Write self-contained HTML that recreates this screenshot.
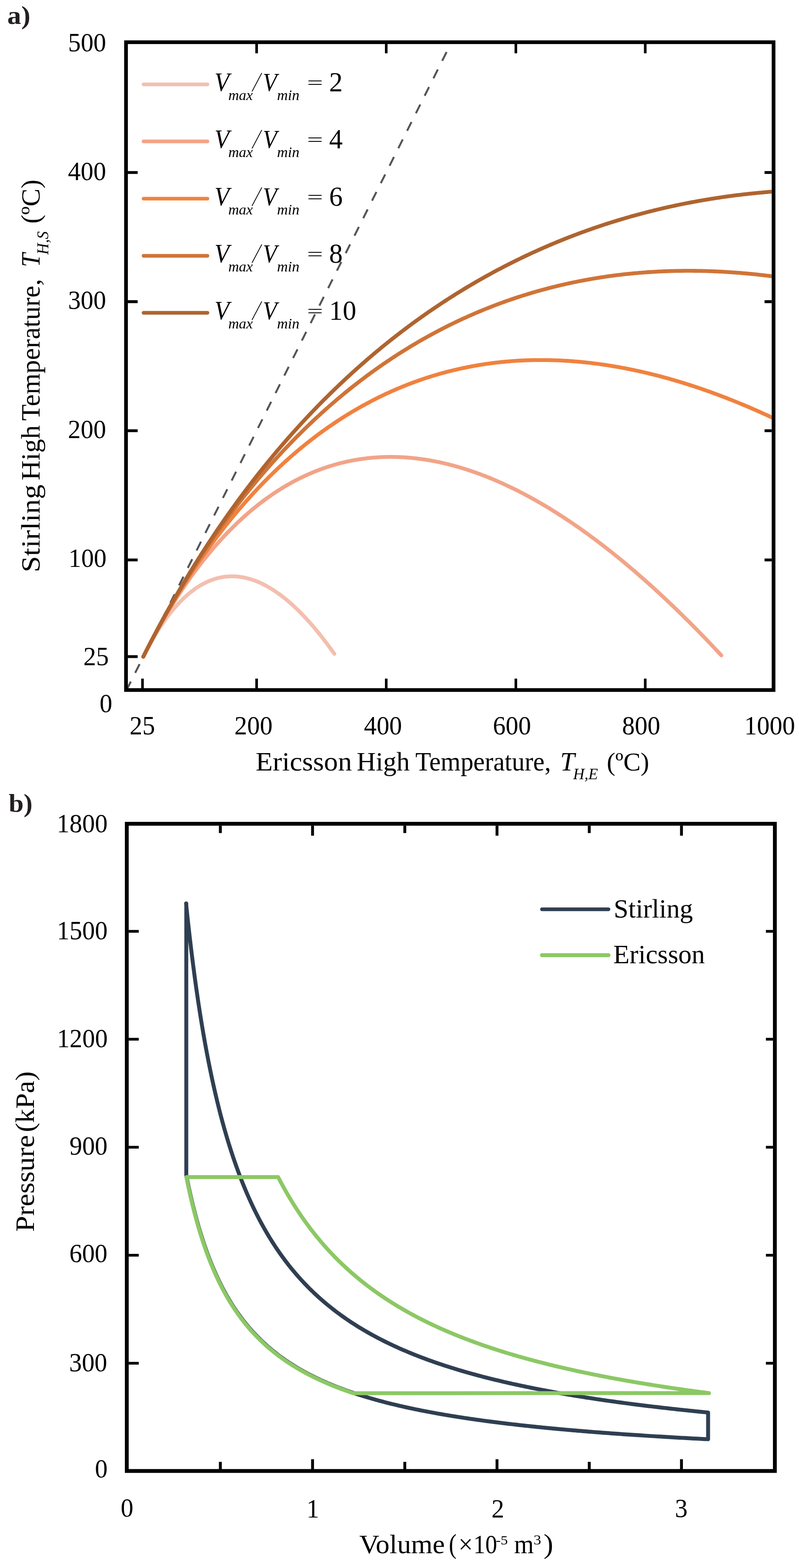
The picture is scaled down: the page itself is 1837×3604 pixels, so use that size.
<!DOCTYPE html><html><head><meta charset="utf-8"><title>Stirling vs Ericsson temperature and P-V diagram</title>
<style>html,body{margin:0;padding:0;background:#fff;}svg{display:block;}text{font-family:"Liberation Serif", "Times New Roman", serif;fill:#000;}</style></head><body>
<svg width="1837" height="3604" viewBox="0 0 1837 3604">
<defs><clipPath id="ca"><rect x="294" y="101" width="1480" height="1481"/></clipPath></defs>
<path d="M292.17 1583.70 L1036.76 99.70" stroke="#555557" stroke-width="4.5" stroke-dasharray="22.5 22.47" stroke-dashoffset="3.4" fill="none" clip-path="url(#ca)"/>
<path d="M329.40 1509.50L333.12 1502.17L336.85 1495.02L340.57 1488.04L344.29 1481.23L348.01 1474.60L351.74 1468.13L355.46 1461.83L359.18 1455.70L362.91 1449.73L366.63 1443.92L370.35 1438.27L374.07 1432.78L377.80 1427.44L381.52 1422.25L385.24 1417.22L388.97 1412.34L392.69 1407.61L396.41 1403.03L400.13 1398.59L403.86 1394.29L407.58 1390.14L411.30 1386.13L415.03 1382.26L418.75 1378.53L422.47 1374.93L426.20 1371.47L429.92 1368.15L433.64 1364.95L437.36 1361.89L441.09 1358.96L444.81 1356.16L448.53 1353.48L452.26 1350.94L455.98 1348.51L459.70 1346.21L463.42 1344.04L467.15 1341.99L470.87 1340.05L474.59 1338.24L478.32 1336.55L482.04 1334.97L485.76 1333.51L489.49 1332.17L493.21 1330.94L496.93 1329.82L500.65 1328.81L504.38 1327.92L508.10 1327.14L511.82 1326.47L515.55 1325.90L519.27 1325.45L522.99 1325.10L526.71 1324.86L530.44 1324.72L534.16 1324.68L537.88 1324.75L541.61 1324.93L545.33 1325.20L549.05 1325.58L552.77 1326.05L556.50 1326.63L560.22 1327.30L563.94 1328.07L567.67 1328.94L571.39 1329.91L575.11 1330.97L578.84 1332.12L582.56 1333.37L586.28 1334.72L590.00 1336.16L593.73 1337.68L597.45 1339.30L601.17 1341.02L604.90 1342.82L608.62 1344.71L612.34 1346.69L616.06 1348.76L619.79 1350.91L623.51 1353.16L627.23 1355.49L630.96 1357.90L634.68 1360.40L638.40 1362.99L642.12 1365.66L645.85 1368.41L649.57 1371.25L653.29 1374.17L657.02 1377.17L660.74 1380.25L664.46 1383.41L668.19 1386.65L671.91 1389.98L675.63 1393.38L679.35 1396.86L683.08 1400.42L686.80 1404.06L690.52 1407.77L694.25 1411.56L697.97 1415.43L701.69 1419.37L705.41 1423.39L709.14 1427.48L712.86 1431.65L716.58 1435.89L720.31 1440.21L724.03 1444.60L727.75 1449.06L731.48 1453.59L735.20 1458.20L738.92 1462.87L742.64 1467.62L746.37 1472.44L750.09 1477.33L753.81 1482.29L757.54 1487.31L761.26 1492.41L764.98 1497.58L768.70 1502.81" stroke="#F3BFAF" stroke-width="8.8" fill="none" stroke-linecap="round" stroke-linejoin="round" clip-path="url(#ca)"/>
<path d="M329.40 1509.50L333.12 1502.12L336.85 1494.84L340.57 1487.64L344.29 1480.53L348.01 1473.50L351.74 1466.56L355.46 1459.70L359.18 1452.92L362.91 1446.22L366.63 1439.61L370.35 1433.07L374.07 1426.62L377.80 1420.24L381.52 1413.94L385.24 1407.71L388.97 1401.56L392.69 1395.49L396.41 1389.48L400.13 1383.55L403.86 1377.70L407.58 1371.91L411.30 1366.20L415.03 1360.55L418.75 1354.97L422.47 1349.47L426.20 1344.03L429.92 1338.65L433.64 1333.35L437.36 1328.11L441.09 1322.93L444.81 1317.82L448.53 1312.77L452.26 1307.79L455.98 1302.87L459.70 1298.01L463.42 1293.21L467.15 1288.47L470.87 1283.80L474.59 1279.18L478.32 1274.62L482.04 1270.13L485.76 1265.69L489.49 1261.30L493.21 1256.98L496.93 1252.71L500.65 1248.50L504.38 1244.34L508.10 1240.24L511.82 1236.19L515.55 1232.20L519.27 1228.26L522.99 1224.38L526.71 1220.55L530.44 1216.77L534.16 1213.04L537.88 1209.37L541.61 1205.74L545.33 1202.17L549.05 1198.65L552.77 1195.18L556.50 1191.75L560.22 1188.38L563.94 1185.06L567.67 1181.78L571.39 1178.55L575.11 1175.37L578.84 1172.24L582.56 1169.16L586.28 1166.12L590.00 1163.13L593.73 1160.18L597.45 1157.28L601.17 1154.43L604.90 1151.62L608.62 1148.85L612.34 1146.13L616.06 1143.46L619.79 1140.83L623.51 1138.24L627.23 1135.69L630.96 1133.19L634.68 1130.73L638.40 1128.31L642.12 1125.94L645.85 1123.61L649.57 1121.31L653.29 1119.06L657.02 1116.85L660.74 1114.68L664.46 1112.56L668.19 1110.47L671.91 1108.42L675.63 1106.41L679.35 1104.44L683.08 1102.51L686.80 1100.62L690.52 1098.76L694.25 1096.95L697.97 1095.17L701.69 1093.44L705.41 1091.73L709.14 1090.07L712.86 1088.45L716.58 1086.86L720.31 1085.30L724.03 1083.79L727.75 1082.31L731.48 1080.87L735.20 1079.46L738.92 1078.09L742.64 1076.75L746.37 1075.45L750.09 1074.18L753.81 1072.95L757.54 1071.76L761.26 1070.60L764.98 1069.47L768.70 1068.37L772.43 1067.32L776.15 1066.29L779.87 1065.30L783.60 1064.34L787.32 1063.41L791.04 1062.52L794.76 1061.66L798.49 1060.83L802.21 1060.04L805.93 1059.28L809.66 1058.54L813.38 1057.85L817.10 1057.18L820.83 1056.54L824.55 1055.94L828.27 1055.37L831.99 1054.83L835.72 1054.31L839.44 1053.83L843.16 1053.39L846.89 1052.97L850.61 1052.58L854.33 1052.22L858.05 1051.89L861.78 1051.59L865.50 1051.32L869.22 1051.08L872.95 1050.87L876.67 1050.69L880.39 1050.54L884.12 1050.42L887.84 1050.33L891.56 1050.26L895.28 1050.22L899.01 1050.22L902.73 1050.24L906.45 1050.28L910.18 1050.36L913.90 1050.46L917.62 1050.60L921.34 1050.76L925.07 1050.94L928.79 1051.16L932.51 1051.40L936.24 1051.67L939.96 1051.96L943.68 1052.29L947.40 1052.63L951.13 1053.01L954.85 1053.41L958.57 1053.84L962.30 1054.30L966.02 1054.78L969.74 1055.28L973.47 1055.82L977.19 1056.38L980.91 1056.96L984.63 1057.57L988.36 1058.21L992.08 1058.87L995.80 1059.55L999.53 1060.26L1003.25 1061.00L1006.97 1061.76L1010.69 1062.55L1014.42 1063.36L1018.14 1064.19L1021.86 1065.05L1025.59 1065.94L1029.31 1066.84L1033.03 1067.78L1036.76 1068.73L1040.48 1069.71L1044.20 1070.72L1047.92 1071.75L1051.65 1072.80L1055.37 1073.87L1059.09 1074.97L1062.82 1076.09L1066.54 1077.24L1070.26 1078.41L1073.98 1079.60L1077.71 1080.82L1081.43 1082.05L1085.15 1083.31L1088.88 1084.60L1092.60 1085.90L1096.32 1087.23L1100.04 1088.58L1103.77 1089.96L1107.49 1091.35L1111.21 1092.77L1114.94 1094.21L1118.66 1095.68L1122.38 1097.16L1126.11 1098.67L1129.83 1100.19L1133.55 1101.74L1137.27 1103.32L1141.00 1104.91L1144.72 1106.52L1148.44 1108.16L1152.17 1109.82L1155.89 1111.49L1159.61 1113.19L1163.33 1114.92L1167.06 1116.66L1170.78 1118.42L1174.50 1120.20L1178.23 1122.01L1181.95 1123.83L1185.67 1125.68L1189.39 1127.54L1193.12 1129.43L1196.84 1131.34L1200.56 1133.27L1204.29 1135.21L1208.01 1137.18L1211.73 1139.17L1215.46 1141.18L1219.18 1143.21L1222.90 1145.25L1226.62 1147.32L1230.35 1149.41L1234.07 1151.52L1237.79 1153.64L1241.52 1155.79L1245.24 1157.96L1248.96 1160.14L1252.68 1162.35L1256.41 1164.57L1260.13 1166.81L1263.85 1169.08L1267.58 1171.36L1271.30 1173.66L1275.02 1175.98L1278.75 1178.32L1282.47 1180.67L1286.19 1183.05L1289.91 1185.45L1293.64 1187.86L1297.36 1190.29L1301.08 1192.74L1304.81 1195.21L1308.53 1197.70L1312.25 1200.21L1315.97 1202.73L1319.70 1205.27L1323.42 1207.83L1327.14 1210.41L1330.87 1213.01L1334.59 1215.63L1338.31 1218.26L1342.03 1220.91L1345.76 1223.58L1349.48 1226.26L1353.20 1228.97L1356.93 1231.69L1360.65 1234.43L1364.37 1237.19L1368.10 1239.96L1371.82 1242.76L1375.54 1245.56L1379.26 1248.39L1382.99 1251.24L1386.71 1254.10L1390.43 1256.98L1394.16 1259.87L1397.88 1262.79L1401.60 1265.72L1405.32 1268.66L1409.05 1271.63L1412.77 1274.61L1416.49 1277.61L1420.22 1280.62L1423.94 1283.65L1427.66 1286.70L1431.39 1289.76L1435.11 1292.84L1438.83 1295.94L1442.55 1299.06L1446.28 1302.19L1450.00 1305.33L1453.72 1308.50L1457.45 1311.68L1461.17 1314.87L1464.89 1318.09L1468.61 1321.31L1472.34 1324.56L1476.06 1327.82L1479.78 1331.09L1483.51 1334.39L1487.23 1337.70L1490.95 1341.02L1494.67 1344.36L1498.40 1347.72L1502.12 1351.09L1505.84 1354.48L1509.57 1357.88L1513.29 1361.30L1517.01 1364.73L1520.74 1368.18L1524.46 1371.65L1528.18 1375.13L1531.90 1378.62L1535.63 1382.14L1539.35 1385.66L1543.07 1389.20L1546.80 1392.76L1550.52 1396.33L1554.24 1399.92L1557.96 1403.53L1561.69 1407.14L1565.41 1410.78L1569.13 1414.42L1572.86 1418.09L1576.58 1421.76L1580.30 1425.46L1584.02 1429.17L1587.75 1432.89L1591.47 1436.62L1595.19 1440.38L1598.92 1444.14L1602.64 1447.92L1606.36 1451.72L1610.09 1455.53L1613.81 1459.36L1617.53 1463.19L1621.25 1467.05L1624.98 1470.92L1628.70 1474.80L1632.42 1478.70L1636.15 1482.61L1639.87 1486.53L1643.59 1490.47L1647.31 1494.43L1651.04 1498.39L1654.76 1502.38L1658.48 1506.37" stroke="#F2A488" stroke-width="8.8" fill="none" stroke-linecap="round" stroke-linejoin="round" clip-path="url(#ca)"/>
<path d="M329.40 1509.50L333.12 1502.15L336.85 1494.86L340.57 1487.65L344.29 1480.50L348.01 1473.41L351.74 1466.39L355.46 1459.44L359.18 1452.55L362.91 1445.72L366.63 1438.95L370.35 1432.25L374.07 1425.60L377.80 1419.02L381.52 1412.49L385.24 1406.03L388.97 1399.62L392.69 1393.27L396.41 1386.97L400.13 1380.73L403.86 1374.55L407.58 1368.42L411.30 1362.35L415.03 1356.33L418.75 1350.36L422.47 1344.45L426.20 1338.59L429.92 1332.78L433.64 1327.02L437.36 1321.31L441.09 1315.65L444.81 1310.04L448.53 1304.49L452.26 1298.98L455.98 1293.51L459.70 1288.10L463.42 1282.73L467.15 1277.41L470.87 1272.14L474.59 1266.91L478.32 1261.73L482.04 1256.59L485.76 1251.50L489.49 1246.46L493.21 1241.45L496.93 1236.49L500.65 1231.58L504.38 1226.71L508.10 1221.88L511.82 1217.09L515.55 1212.34L519.27 1207.64L522.99 1202.97L526.71 1198.35L530.44 1193.77L534.16 1189.23L537.88 1184.72L541.61 1180.26L545.33 1175.84L549.05 1171.45L552.77 1167.11L556.50 1162.80L560.22 1158.53L563.94 1154.30L567.67 1150.10L571.39 1145.95L575.11 1141.83L578.84 1137.74L582.56 1133.69L586.28 1129.68L590.00 1125.71L593.73 1121.77L597.45 1117.86L601.17 1113.99L604.90 1110.16L608.62 1106.36L612.34 1102.59L616.06 1098.86L619.79 1095.16L623.51 1091.49L627.23 1087.86L630.96 1084.26L634.68 1080.70L638.40 1077.16L642.12 1073.66L645.85 1070.19L649.57 1066.76L653.29 1063.35L657.02 1059.98L660.74 1056.64L664.46 1053.32L668.19 1050.04L671.91 1046.79L675.63 1043.58L679.35 1040.39L683.08 1037.23L686.80 1034.10L690.52 1031.00L694.25 1027.93L697.97 1024.89L701.69 1021.88L705.41 1018.90L709.14 1015.95L712.86 1013.02L716.58 1010.13L720.31 1007.26L724.03 1004.42L727.75 1001.61L731.48 998.83L735.20 996.07L738.92 993.35L742.64 990.64L746.37 987.97L750.09 985.32L753.81 982.70L757.54 980.11L761.26 977.55L764.98 975.01L768.70 972.49L772.43 970.00L776.15 967.54L779.87 965.11L783.60 962.70L787.32 960.31L791.04 957.95L794.76 955.62L798.49 953.31L802.21 951.03L805.93 948.77L809.66 946.53L813.38 944.32L817.10 942.14L820.83 939.98L824.55 937.84L828.27 935.73L831.99 933.64L835.72 931.57L839.44 929.53L843.16 927.52L846.89 925.52L850.61 923.55L854.33 921.60L858.05 919.68L861.78 917.78L865.50 915.90L869.22 914.04L872.95 912.21L876.67 910.40L880.39 908.61L884.12 906.84L887.84 905.10L891.56 903.38L895.28 901.68L899.01 900.00L902.73 898.35L906.45 896.71L910.18 895.10L913.90 893.51L917.62 891.94L921.34 890.39L925.07 888.86L928.79 887.35L932.51 885.87L936.24 884.40L939.96 882.96L943.68 881.54L947.40 880.13L951.13 878.75L954.85 877.39L958.57 876.05L962.30 874.73L966.02 873.43L969.74 872.15L973.47 870.88L977.19 869.64L980.91 868.42L984.63 867.22L988.36 866.04L992.08 864.88L995.80 863.73L999.53 862.61L1003.25 861.50L1006.97 860.42L1010.69 859.35L1014.42 858.31L1018.14 857.28L1021.86 856.27L1025.59 855.28L1029.31 854.30L1033.03 853.35L1036.76 852.42L1040.48 851.50L1044.20 850.60L1047.92 849.72L1051.65 848.86L1055.37 848.02L1059.09 847.19L1062.82 846.39L1066.54 845.60L1070.26 844.83L1073.98 844.07L1077.71 843.34L1081.43 842.62L1085.15 841.92L1088.88 841.23L1092.60 840.57L1096.32 839.92L1100.04 839.29L1103.77 838.68L1107.49 838.08L1111.21 837.50L1114.94 836.94L1118.66 836.39L1122.38 835.87L1126.11 835.35L1129.83 834.86L1133.55 834.38L1137.27 833.92L1141.00 833.48L1144.72 833.05L1148.44 832.64L1152.17 832.24L1155.89 831.86L1159.61 831.50L1163.33 831.15L1167.06 830.82L1170.78 830.51L1174.50 830.21L1178.23 829.93L1181.95 829.67L1185.67 829.42L1189.39 829.18L1193.12 828.96L1196.84 828.76L1200.56 828.57L1204.29 828.40L1208.01 828.25L1211.73 828.11L1215.46 827.98L1219.18 827.87L1222.90 827.78L1226.62 827.70L1230.35 827.63L1234.07 827.59L1237.79 827.55L1241.52 827.53L1245.24 827.53L1248.96 827.54L1252.68 827.57L1256.41 827.61L1260.13 827.67L1263.85 827.74L1267.58 827.82L1271.30 827.93L1275.02 828.04L1278.75 828.17L1282.47 828.31L1286.19 828.47L1289.91 828.65L1293.64 828.83L1297.36 829.04L1301.08 829.25L1304.81 829.48L1308.53 829.73L1312.25 829.99L1315.97 830.26L1319.70 830.55L1323.42 830.85L1327.14 831.16L1330.87 831.49L1334.59 831.83L1338.31 832.19L1342.03 832.56L1345.76 832.94L1349.48 833.34L1353.20 833.75L1356.93 834.18L1360.65 834.62L1364.37 835.07L1368.10 835.53L1371.82 836.01L1375.54 836.51L1379.26 837.01L1382.99 837.53L1386.71 838.06L1390.43 838.61L1394.16 839.17L1397.88 839.74L1401.60 840.33L1405.32 840.92L1409.05 841.54L1412.77 842.16L1416.49 842.80L1420.22 843.45L1423.94 844.11L1427.66 844.79L1431.39 845.48L1435.11 846.18L1438.83 846.89L1442.55 847.62L1446.28 848.36L1450.00 849.11L1453.72 849.88L1457.45 850.65L1461.17 851.44L1464.89 852.25L1468.61 853.06L1472.34 853.89L1476.06 854.73L1479.78 855.58L1483.51 856.44L1487.23 857.32L1490.95 858.21L1494.67 859.11L1498.40 860.02L1502.12 860.95L1505.84 861.89L1509.57 862.84L1513.29 863.80L1517.01 864.77L1520.74 865.76L1524.46 866.76L1528.18 867.76L1531.90 868.79L1535.63 869.82L1539.35 870.86L1543.07 871.92L1546.80 872.99L1550.52 874.07L1554.24 875.16L1557.96 876.26L1561.69 877.38L1565.41 878.51L1569.13 879.64L1572.86 880.79L1576.58 881.96L1580.30 883.13L1584.02 884.31L1587.75 885.51L1591.47 886.71L1595.19 887.93L1598.92 889.16L1602.64 890.40L1606.36 891.66L1610.09 892.92L1613.81 894.19L1617.53 895.48L1621.25 896.78L1624.98 898.08L1628.70 899.40L1632.42 900.73L1636.15 902.07L1639.87 903.43L1643.59 904.79L1647.31 906.16L1651.04 907.55L1654.76 908.94L1658.48 910.35L1662.21 911.77L1665.93 913.19L1669.65 914.63L1673.38 916.08L1677.10 917.54L1680.82 919.01L1684.54 920.50L1688.27 921.99L1691.99 923.49L1695.71 925.00L1699.44 926.53L1703.16 928.06L1706.88 929.61L1710.60 931.16L1714.33 932.73L1718.05 934.31L1721.77 935.89L1725.50 937.49L1729.22 939.10L1732.94 940.72L1736.66 942.34L1740.39 943.98L1744.11 945.63L1747.83 947.29L1751.56 948.96L1755.28 950.64L1759.00 952.33L1762.73 954.03L1766.45 955.74L1770.17 957.46L1773.89 959.19L1777.62 960.93L1781.34 962.68" stroke="#F0823F" stroke-width="8.8" fill="none" stroke-linecap="round" stroke-linejoin="round" clip-path="url(#ca)"/>
<path d="M329.40 1509.50L333.12 1502.11L336.85 1494.78L340.57 1487.51L344.29 1480.29L348.01 1473.13L351.74 1466.03L355.46 1458.98L359.18 1451.99L362.91 1445.06L366.63 1438.17L370.35 1431.34L374.07 1424.57L377.80 1417.84L381.52 1411.16L385.24 1404.54L388.97 1397.97L392.69 1391.44L396.41 1384.97L400.13 1378.54L403.86 1372.16L407.58 1365.83L411.30 1359.55L415.03 1353.31L418.75 1347.12L422.47 1340.98L426.20 1334.88L429.92 1328.82L433.64 1322.81L437.36 1316.84L441.09 1310.92L444.81 1305.04L448.53 1299.20L452.26 1293.41L455.98 1287.65L459.70 1281.94L463.42 1276.27L467.15 1270.64L470.87 1265.04L474.59 1259.49L478.32 1253.98L482.04 1248.51L485.76 1243.08L489.49 1237.68L493.21 1232.33L496.93 1227.01L500.65 1221.72L504.38 1216.48L508.10 1211.27L511.82 1206.10L515.55 1200.97L519.27 1195.87L522.99 1190.81L526.71 1185.78L530.44 1180.79L534.16 1175.83L537.88 1170.90L541.61 1166.02L545.33 1161.16L549.05 1156.34L552.77 1151.55L556.50 1146.80L560.22 1142.07L563.94 1137.38L567.67 1132.73L571.39 1128.10L575.11 1123.51L578.84 1118.95L582.56 1114.42L586.28 1109.92L590.00 1105.45L593.73 1101.01L597.45 1096.61L601.17 1092.23L604.90 1087.89L608.62 1083.57L612.34 1079.28L616.06 1075.03L619.79 1070.80L623.51 1066.60L627.23 1062.43L630.96 1058.29L634.68 1054.17L638.40 1050.09L642.12 1046.03L645.85 1042.00L649.57 1038.00L653.29 1034.03L657.02 1030.08L660.74 1026.16L664.46 1022.27L668.19 1018.40L671.91 1014.57L675.63 1010.75L679.35 1006.97L683.08 1003.21L686.80 999.47L690.52 995.76L694.25 992.08L697.97 988.42L701.69 984.79L705.41 981.18L709.14 977.60L712.86 974.04L716.58 970.51L720.31 967.00L724.03 963.52L727.75 960.06L731.48 956.62L735.20 953.21L738.92 949.82L742.64 946.46L746.37 943.12L750.09 939.80L753.81 936.51L757.54 933.24L761.26 929.99L764.98 926.77L768.70 923.56L772.43 920.38L776.15 917.23L779.87 914.09L783.60 910.98L787.32 907.89L791.04 904.82L794.76 901.77L798.49 898.75L802.21 895.75L805.93 892.76L809.66 889.80L813.38 886.86L817.10 883.95L820.83 881.05L824.55 878.17L828.27 875.32L831.99 872.48L835.72 869.67L839.44 866.88L843.16 864.10L846.89 861.35L850.61 858.62L854.33 855.91L858.05 853.21L861.78 850.54L865.50 847.89L869.22 845.26L872.95 842.64L876.67 840.05L880.39 837.48L884.12 834.92L887.84 832.38L891.56 829.87L895.28 827.37L899.01 824.89L902.73 822.43L906.45 819.99L910.18 817.57L913.90 815.16L917.62 812.78L921.34 810.41L925.07 808.06L928.79 805.73L932.51 803.42L936.24 801.13L939.96 798.85L943.68 796.59L947.40 794.35L951.13 792.13L954.85 789.92L958.57 787.73L962.30 785.56L966.02 783.41L969.74 781.28L973.47 779.16L977.19 777.06L980.91 774.97L984.63 772.91L988.36 770.86L992.08 768.82L995.80 766.81L999.53 764.81L1003.25 762.83L1006.97 760.86L1010.69 758.91L1014.42 756.98L1018.14 755.06L1021.86 753.16L1025.59 751.28L1029.31 749.41L1033.03 747.56L1036.76 745.72L1040.48 743.90L1044.20 742.10L1047.92 740.31L1051.65 738.54L1055.37 736.78L1059.09 735.04L1062.82 733.32L1066.54 731.61L1070.26 729.91L1073.98 728.23L1077.71 726.57L1081.43 724.92L1085.15 723.29L1088.88 721.67L1092.60 720.07L1096.32 718.48L1100.04 716.91L1103.77 715.35L1107.49 713.81L1111.21 712.28L1114.94 710.77L1118.66 709.27L1122.38 707.79L1126.11 706.32L1129.83 704.86L1133.55 703.42L1137.27 702.00L1141.00 700.59L1144.72 699.19L1148.44 697.81L1152.17 696.44L1155.89 695.08L1159.61 693.74L1163.33 692.42L1167.06 691.10L1170.78 689.81L1174.50 688.52L1178.23 687.25L1181.95 685.99L1185.67 684.75L1189.39 683.52L1193.12 682.31L1196.84 681.11L1200.56 679.92L1204.29 678.74L1208.01 677.58L1211.73 676.43L1215.46 675.30L1219.18 674.18L1222.90 673.07L1226.62 671.97L1230.35 670.89L1234.07 669.82L1237.79 668.77L1241.52 667.73L1245.24 666.70L1248.96 665.68L1252.68 664.68L1256.41 663.69L1260.13 662.71L1263.85 661.74L1267.58 660.79L1271.30 659.85L1275.02 658.93L1278.75 658.01L1282.47 657.11L1286.19 656.22L1289.91 655.34L1293.64 654.48L1297.36 653.63L1301.08 652.79L1304.81 651.96L1308.53 651.15L1312.25 650.34L1315.97 649.55L1319.70 648.78L1323.42 648.01L1327.14 647.26L1330.87 646.51L1334.59 645.78L1338.31 645.07L1342.03 644.36L1345.76 643.67L1349.48 642.98L1353.20 642.31L1356.93 641.65L1360.65 641.01L1364.37 640.37L1368.10 639.75L1371.82 639.14L1375.54 638.54L1379.26 637.95L1382.99 637.37L1386.71 636.81L1390.43 636.25L1394.16 635.71L1397.88 635.18L1401.60 634.66L1405.32 634.15L1409.05 633.65L1412.77 633.16L1416.49 632.69L1420.22 632.23L1423.94 631.77L1427.66 631.33L1431.39 630.90L1435.11 630.48L1438.83 630.07L1442.55 629.68L1446.28 629.29L1450.00 628.92L1453.72 628.55L1457.45 628.20L1461.17 627.86L1464.89 627.52L1468.61 627.20L1472.34 626.89L1476.06 626.59L1479.78 626.30L1483.51 626.03L1487.23 625.76L1490.95 625.50L1494.67 625.25L1498.40 625.02L1502.12 624.79L1505.84 624.58L1509.57 624.37L1513.29 624.18L1517.01 623.99L1520.74 623.82L1524.46 623.66L1528.18 623.51L1531.90 623.36L1535.63 623.23L1539.35 623.11L1543.07 623.00L1546.80 622.89L1550.52 622.80L1554.24 622.72L1557.96 622.65L1561.69 622.59L1565.41 622.54L1569.13 622.50L1572.86 622.46L1576.58 622.44L1580.30 622.43L1584.02 622.43L1587.75 622.44L1591.47 622.46L1595.19 622.48L1598.92 622.52L1602.64 622.57L1606.36 622.63L1610.09 622.69L1613.81 622.77L1617.53 622.86L1621.25 622.95L1624.98 623.06L1628.70 623.17L1632.42 623.30L1636.15 623.43L1639.87 623.58L1643.59 623.73L1647.31 623.89L1651.04 624.06L1654.76 624.24L1658.48 624.44L1662.21 624.64L1665.93 624.85L1669.65 625.06L1673.38 625.29L1677.10 625.53L1680.82 625.78L1684.54 626.03L1688.27 626.30L1691.99 626.57L1695.71 626.86L1699.44 627.15L1703.16 627.45L1706.88 627.76L1710.60 628.08L1714.33 628.41L1718.05 628.75L1721.77 629.09L1725.50 629.45L1729.22 629.82L1732.94 630.19L1736.66 630.57L1740.39 630.96L1744.11 631.36L1747.83 631.77L1751.56 632.19L1755.28 632.62L1759.00 633.06L1762.73 633.50L1766.45 633.95L1770.17 634.42L1773.89 634.89L1777.62 635.37L1781.34 635.85" stroke="#D07437" stroke-width="8.8" fill="none" stroke-linecap="round" stroke-linejoin="round" clip-path="url(#ca)"/>
<path d="M329.40 1509.50L333.12 1502.11L336.85 1494.77L340.57 1487.48L344.29 1480.25L348.01 1473.06L351.74 1465.93L355.46 1458.85L359.18 1451.81L362.91 1444.83L366.63 1437.89L370.35 1431.01L374.07 1424.17L377.80 1417.37L381.52 1410.63L385.24 1403.93L388.97 1397.27L392.69 1390.66L396.41 1384.09L400.13 1377.57L403.86 1371.09L407.58 1364.66L411.30 1358.26L415.03 1351.91L418.75 1345.60L422.47 1339.33L426.20 1333.10L429.92 1326.92L433.64 1320.77L437.36 1314.66L441.09 1308.59L444.81 1302.56L448.53 1296.57L452.26 1290.62L455.98 1284.70L459.70 1278.82L463.42 1272.98L467.15 1267.18L470.87 1261.41L474.59 1255.68L478.32 1249.98L482.04 1244.32L485.76 1238.69L489.49 1233.10L493.21 1227.55L496.93 1222.02L500.65 1216.54L504.38 1211.08L508.10 1205.66L511.82 1200.27L515.55 1194.91L519.27 1189.59L522.99 1184.30L526.71 1179.04L530.44 1173.81L534.16 1168.62L537.88 1163.45L541.61 1158.32L545.33 1153.21L549.05 1148.14L552.77 1143.10L556.50 1138.08L560.22 1133.10L563.94 1128.14L567.67 1123.22L571.39 1118.32L575.11 1113.46L578.84 1108.62L582.56 1103.81L586.28 1099.03L590.00 1094.27L593.73 1089.55L597.45 1084.85L601.17 1080.18L604.90 1075.53L608.62 1070.92L612.34 1066.33L616.06 1061.76L619.79 1057.22L623.51 1052.71L627.23 1048.23L630.96 1043.77L634.68 1039.34L638.40 1034.93L642.12 1030.54L645.85 1026.19L649.57 1021.85L653.29 1017.55L657.02 1013.26L660.74 1009.01L664.46 1004.77L668.19 1000.56L671.91 996.37L675.63 992.21L679.35 988.07L683.08 983.96L686.80 979.87L690.52 975.80L694.25 971.75L697.97 967.73L701.69 963.73L705.41 959.76L709.14 955.80L712.86 951.87L716.58 947.96L720.31 944.07L724.03 940.21L727.75 936.37L731.48 932.54L735.20 928.74L738.92 924.96L742.64 921.21L746.37 917.47L750.09 913.76L753.81 910.06L757.54 906.39L761.26 902.74L764.98 899.11L768.70 895.50L772.43 891.91L776.15 888.33L779.87 884.78L783.60 881.25L787.32 877.74L791.04 874.25L794.76 870.78L798.49 867.33L802.21 863.90L805.93 860.49L809.66 857.10L813.38 853.72L817.10 850.37L820.83 847.03L824.55 843.72L828.27 840.42L831.99 837.14L835.72 833.88L839.44 830.64L843.16 827.42L846.89 824.21L850.61 821.03L854.33 817.86L858.05 814.71L861.78 811.57L865.50 808.46L869.22 805.36L872.95 802.28L876.67 799.22L880.39 796.18L884.12 793.15L887.84 790.14L891.56 787.15L895.28 784.18L899.01 781.22L902.73 778.28L906.45 775.35L910.18 772.45L913.90 769.56L917.62 766.68L921.34 763.83L925.07 760.99L928.79 758.16L932.51 755.36L936.24 752.56L939.96 749.79L943.68 747.03L947.40 744.29L951.13 741.56L954.85 738.85L958.57 736.16L962.30 733.48L966.02 730.82L969.74 728.17L973.47 725.54L977.19 722.92L980.91 720.32L984.63 717.73L988.36 715.16L992.08 712.61L995.80 710.07L999.53 707.54L1003.25 705.03L1006.97 702.54L1010.69 700.06L1014.42 697.60L1018.14 695.15L1021.86 692.71L1025.59 690.29L1029.31 687.88L1033.03 685.49L1036.76 683.12L1040.48 680.75L1044.20 678.41L1047.92 676.07L1051.65 673.75L1055.37 671.45L1059.09 669.16L1062.82 666.88L1066.54 664.62L1070.26 662.37L1073.98 660.13L1077.71 657.91L1081.43 655.70L1085.15 653.51L1088.88 651.33L1092.60 649.16L1096.32 647.01L1100.04 644.87L1103.77 642.75L1107.49 640.63L1111.21 638.54L1114.94 636.45L1118.66 634.38L1122.38 632.32L1126.11 630.27L1129.83 628.24L1133.55 626.22L1137.27 624.21L1141.00 622.22L1144.72 620.24L1148.44 618.27L1152.17 616.32L1155.89 614.37L1159.61 612.44L1163.33 610.53L1167.06 608.62L1170.78 606.73L1174.50 604.85L1178.23 602.99L1181.95 601.13L1185.67 599.29L1189.39 597.46L1193.12 595.65L1196.84 593.84L1200.56 592.05L1204.29 590.27L1208.01 588.50L1211.73 586.75L1215.46 585.00L1219.18 583.27L1222.90 581.55L1226.62 579.84L1230.35 578.15L1234.07 576.46L1237.79 574.79L1241.52 573.13L1245.24 571.48L1248.96 569.84L1252.68 568.22L1256.41 566.61L1260.13 565.00L1263.85 563.41L1267.58 561.83L1271.30 560.27L1275.02 558.71L1278.75 557.17L1282.47 555.63L1286.19 554.11L1289.91 552.60L1293.64 551.10L1297.36 549.61L1301.08 548.13L1304.81 546.67L1308.53 545.21L1312.25 543.77L1315.97 542.34L1319.70 540.91L1323.42 539.50L1327.14 538.10L1330.87 536.71L1334.59 535.34L1338.31 533.97L1342.03 532.61L1345.76 531.27L1349.48 529.93L1353.20 528.61L1356.93 527.29L1360.65 525.99L1364.37 524.70L1368.10 523.42L1371.82 522.14L1375.54 520.88L1379.26 519.63L1382.99 518.39L1386.71 517.16L1390.43 515.94L1394.16 514.73L1397.88 513.53L1401.60 512.35L1405.32 511.17L1409.05 510.00L1412.77 508.84L1416.49 507.69L1420.22 506.55L1423.94 505.43L1427.66 504.31L1431.39 503.20L1435.11 502.10L1438.83 501.02L1442.55 499.94L1446.28 498.87L1450.00 497.81L1453.72 496.76L1457.45 495.73L1461.17 494.70L1464.89 493.68L1468.61 492.67L1472.34 491.67L1476.06 490.68L1479.78 489.70L1483.51 488.73L1487.23 487.77L1490.95 486.82L1494.67 485.88L1498.40 484.94L1502.12 484.02L1505.84 483.11L1509.57 482.20L1513.29 481.31L1517.01 480.42L1520.74 479.55L1524.46 478.68L1528.18 477.83L1531.90 476.98L1535.63 476.14L1539.35 475.31L1543.07 474.49L1546.80 473.68L1550.52 472.88L1554.24 472.08L1557.96 471.30L1561.69 470.53L1565.41 469.76L1569.13 469.00L1572.86 468.26L1576.58 467.52L1580.30 466.79L1584.02 466.07L1587.75 465.36L1591.47 464.65L1595.19 463.96L1598.92 463.28L1602.64 462.60L1606.36 461.93L1610.09 461.27L1613.81 460.62L1617.53 459.98L1621.25 459.35L1624.98 458.73L1628.70 458.11L1632.42 457.50L1636.15 456.91L1639.87 456.32L1643.59 455.74L1647.31 455.16L1651.04 454.60L1654.76 454.04L1658.48 453.50L1662.21 452.96L1665.93 452.43L1669.65 451.91L1673.38 451.40L1677.10 450.89L1680.82 450.39L1684.54 449.91L1688.27 449.43L1691.99 448.96L1695.71 448.49L1699.44 448.04L1703.16 447.59L1706.88 447.15L1710.60 446.72L1714.33 446.30L1718.05 445.89L1721.77 445.48L1725.50 445.08L1729.22 444.69L1732.94 444.31L1736.66 443.94L1740.39 443.57L1744.11 443.22L1747.83 442.87L1751.56 442.53L1755.28 442.19L1759.00 441.87L1762.73 441.55L1766.45 441.24L1770.17 440.94L1773.89 440.65L1777.62 440.36L1781.34 440.08" stroke="#AF6430" stroke-width="8.8" fill="none" stroke-linecap="round" stroke-linejoin="round" clip-path="url(#ca)"/>
<rect x="289.7" y="97" width="1488.8" height="1489" fill="none" stroke="#000" stroke-width="8.5"/>
<path d="M294 396.5H316.5M1774 396.5H1757.8M294 693.4H316.5M1774 693.4H1757.8M294 990.0H316.5M1774 990.0H1757.8M294 1287.0H316.5M1774 1287.0H1757.8M294 1509.2H316.5" stroke="#000" stroke-width="6.6" fill="none"/>
<path d="M590.0 1582V1559.8M590.0 101V122.5M888.0 1582V1559.8M888.0 101V122.5M1186.0 1582V1559.8M1186.0 101V122.5M1483.5 1582V1559.8M1483.5 101V122.5M327.6 1582V1559.8" stroke="#000" stroke-width="6" fill="none"/>
<path d="M330 194.0H477" stroke="#F3BFAF" stroke-width="8.4" stroke-linecap="round"/>
<path d="M330 325.0H477" stroke="#F2A488" stroke-width="8.4" stroke-linecap="round"/>
<path d="M330 456.6H477" stroke="#F0823F" stroke-width="8.4" stroke-linecap="round"/>
<path d="M330 588.0H477" stroke="#D07437" stroke-width="8.4" stroke-linecap="round"/>
<path d="M330 719.0H477" stroke="#AF6430" stroke-width="8.4" stroke-linecap="round"/>
<path d="M428.30 2701.56L428.30 2076.40L427.77 2076.40L431.77 2114.37L435.77 2150.18L439.77 2184.02L443.77 2216.04L447.77 2246.39L451.77 2275.19L455.77 2302.55L459.77 2328.59L463.77 2353.40L467.77 2377.06L471.77 2399.65L475.78 2421.24L479.78 2441.89L483.78 2461.68L487.78 2480.64L491.78 2498.83L495.78 2516.30L499.78 2533.08L503.78 2549.23L507.78 2564.76L511.78 2579.73L515.78 2594.15L519.78 2608.06L523.79 2621.48L527.79 2634.44L531.79 2646.96L535.79 2659.07L539.79 2670.78L543.79 2682.12L547.79 2693.10L551.79 2703.73L555.79 2714.04L559.79 2724.04L563.79 2733.74L567.79 2743.16L571.79 2752.31L575.80 2761.19L579.80 2769.82L583.80 2778.22L587.80 2786.39L591.80 2794.33L595.80 2802.07L599.80 2809.60L603.80 2816.94L607.80 2824.09L611.80 2831.06L615.80 2837.85L619.80 2844.48L623.80 2850.95L627.81 2857.26L631.81 2863.42L635.81 2869.44L639.81 2875.32L643.81 2881.06L647.81 2886.67L651.81 2892.16L655.81 2897.52L659.81 2902.77L663.81 2907.91L667.81 2912.93L671.81 2917.85L675.81 2922.66L679.82 2927.38L683.82 2931.99L687.82 2936.51L691.82 2940.95L695.82 2945.29L699.82 2949.55L703.82 2953.72L707.82 2957.82L711.82 2961.83L715.82 2965.77L719.82 2969.63L723.82 2973.43L727.82 2977.15L731.83 2980.80L735.83 2984.39L739.83 2987.91L743.83 2991.37L747.83 2994.77L751.83 2998.11L755.83 3001.39L759.83 3004.62L763.83 3007.79L767.83 3010.91L771.83 3013.97L775.83 3016.98L779.83 3019.95L783.84 3022.86L787.84 3025.73L791.84 3028.55L795.84 3031.33L799.84 3034.06L803.84 3036.75L807.84 3039.40L811.84 3042.01L815.84 3044.57L819.84 3047.10L823.84 3049.59L827.84 3052.04L831.85 3054.46L835.85 3056.84L839.85 3059.18L843.85 3061.49L847.85 3063.77L851.85 3066.02L855.85 3068.23L859.85 3070.41L863.85 3072.56L867.85 3074.68L871.85 3076.77L875.85 3078.84L879.85 3080.87L883.86 3082.88L887.86 3084.86L891.86 3086.81L895.86 3088.74L899.86 3090.64L903.86 3092.51L907.86 3094.37L911.86 3096.19L915.86 3098.00L919.86 3099.78L923.86 3101.54L927.86 3103.27L931.86 3104.99L935.87 3106.68L939.87 3108.35L943.87 3110.01L947.87 3111.64L951.87 3113.25L955.87 3114.84L959.87 3116.41L963.87 3117.97L967.87 3119.50L971.87 3121.02L975.87 3122.52L979.87 3124.00L983.87 3125.47L987.88 3126.91L991.88 3128.35L995.88 3129.76L999.88 3131.16L1003.88 3132.54L1007.88 3133.91L1011.88 3135.26L1015.88 3136.60L1019.88 3137.92L1023.88 3139.23L1027.88 3140.52L1031.88 3141.80L1035.88 3143.07L1039.89 3144.32L1043.89 3145.56L1047.89 3146.79L1051.89 3148.00L1055.89 3149.20L1059.89 3150.39L1063.89 3151.56L1067.89 3152.73L1071.89 3153.88L1075.89 3155.02L1079.89 3156.14L1083.89 3157.26L1087.89 3158.37L1091.90 3159.46L1095.90 3160.54L1099.90 3161.61L1103.90 3162.68L1107.90 3163.73L1111.90 3164.77L1115.90 3165.80L1119.90 3166.82L1123.90 3167.83L1127.90 3168.83L1131.90 3169.82L1135.90 3170.80L1139.90 3171.78L1143.91 3172.74L1147.91 3173.70L1151.91 3174.64L1155.91 3175.58L1159.91 3176.51L1163.91 3177.43L1167.91 3178.34L1171.91 3179.24L1175.91 3180.14L1179.91 3181.02L1183.91 3181.90L1187.91 3182.77L1191.92 3183.63L1195.92 3184.49L1199.92 3185.34L1203.92 3186.18L1207.92 3187.01L1211.92 3187.84L1215.92 3188.66L1219.92 3189.47L1223.92 3190.27L1227.92 3191.07L1231.92 3191.86L1235.92 3192.64L1239.92 3193.42L1243.93 3194.19L1247.93 3194.96L1251.93 3195.71L1255.93 3196.47L1259.93 3197.21L1263.93 3197.95L1267.93 3198.68L1271.93 3199.41L1275.93 3200.13L1279.93 3200.85L1283.93 3201.56L1287.93 3202.26L1291.93 3202.96L1295.94 3203.65L1299.94 3204.34L1303.94 3205.02L1307.94 3205.70L1311.94 3206.37L1315.94 3207.04L1319.94 3207.70L1323.94 3208.35L1327.94 3209.00L1331.94 3209.65L1335.94 3210.29L1339.94 3210.92L1343.94 3211.55L1347.95 3212.18L1351.95 3212.80L1355.95 3213.42L1359.95 3214.03L1363.95 3214.64L1367.95 3215.24L1371.95 3215.84L1375.95 3216.43L1379.95 3217.02L1383.95 3217.61L1387.95 3218.19L1391.95 3218.76L1395.95 3219.33L1399.96 3219.90L1403.96 3220.47L1407.96 3221.03L1411.96 3221.58L1415.96 3222.14L1419.96 3222.68L1423.96 3223.23L1427.96 3223.77L1431.96 3224.30L1435.96 3224.84L1439.96 3225.37L1443.96 3225.89L1447.96 3226.41L1451.97 3226.93L1455.97 3227.45L1459.97 3227.96L1463.97 3228.47L1467.97 3228.97L1471.97 3229.47L1475.97 3229.97L1479.97 3230.46L1483.97 3230.95L1487.97 3231.44L1491.97 3231.92L1495.97 3232.40L1499.98 3232.88L1503.98 3233.36L1507.98 3233.83L1511.98 3234.30L1515.98 3234.76L1519.98 3235.22L1523.98 3235.68L1527.98 3236.14L1531.98 3236.59L1535.98 3237.04L1539.98 3237.49L1543.98 3237.94L1547.98 3238.38L1551.99 3238.82L1555.99 3239.25L1559.99 3239.69L1563.99 3240.12L1567.99 3240.54L1571.99 3240.97L1575.99 3241.39L1579.99 3241.81L1583.99 3242.23L1587.99 3242.64L1591.99 3243.06L1595.99 3243.47L1599.99 3243.87L1604.00 3244.28L1608.00 3244.68L1612.00 3245.08L1616.00 3245.48L1620.00 3245.87L1624.00 3246.26L1628.00 3246.65L1628.00 3308.06L1624.00 3307.85L1620.00 3307.65L1616.00 3307.44L1612.00 3307.24L1608.01 3307.03L1604.01 3306.82L1600.01 3306.61L1596.01 3306.40L1592.01 3306.18L1588.01 3305.97L1584.01 3305.75L1580.01 3305.53L1576.01 3305.31L1572.01 3305.09L1568.02 3304.87L1564.02 3304.65L1560.02 3304.42L1556.02 3304.20L1552.02 3303.97L1548.02 3303.74L1544.02 3303.51L1540.02 3303.28L1536.02 3303.05L1532.02 3302.81L1528.03 3302.58L1524.03 3302.34L1520.03 3302.10L1516.03 3301.86L1512.03 3301.62L1508.03 3301.37L1504.03 3301.13L1500.03 3300.88L1496.03 3300.63L1492.03 3300.38L1488.04 3300.13L1484.04 3299.87L1480.04 3299.62L1476.04 3299.36L1472.04 3299.10L1468.04 3298.84L1464.04 3298.58L1460.04 3298.31L1456.04 3298.04L1452.04 3297.78L1448.05 3297.51L1444.05 3297.23L1440.05 3296.96L1436.05 3296.68L1432.05 3296.41L1428.05 3296.13L1424.05 3295.85L1420.05 3295.56L1416.05 3295.28L1412.05 3294.99L1408.06 3294.70L1404.06 3294.41L1400.06 3294.11L1396.06 3293.82L1392.06 3293.52L1388.06 3293.22L1384.06 3292.91L1380.06 3292.61L1376.06 3292.30L1372.06 3291.99L1368.07 3291.68L1364.07 3291.37L1360.07 3291.05L1356.07 3290.73L1352.07 3290.41L1348.07 3290.09L1344.07 3289.76L1340.07 3289.43L1336.07 3289.10L1332.07 3288.77L1328.08 3288.43L1324.08 3288.09L1320.08 3287.75L1316.08 3287.41L1312.08 3287.06L1308.08 3286.71L1304.08 3286.36L1300.08 3286.00L1296.08 3285.64L1292.08 3285.28L1288.09 3284.92L1284.09 3284.55L1280.09 3284.18L1276.09 3283.81L1272.09 3283.43L1268.09 3283.05L1264.09 3282.67L1260.09 3282.29L1256.09 3281.90L1252.09 3281.51L1248.10 3281.11L1244.10 3280.71L1240.10 3280.31L1236.10 3279.91L1232.10 3279.50L1228.10 3279.08L1224.10 3278.67L1220.10 3278.25L1216.10 3277.83L1212.10 3277.40L1208.11 3276.97L1204.11 3276.54L1200.11 3276.10L1196.11 3275.66L1192.11 3275.21L1188.11 3274.76L1184.11 3274.31L1180.11 3273.85L1176.11 3273.39L1172.11 3272.92L1168.12 3272.45L1164.12 3271.98L1160.12 3271.50L1156.12 3271.01L1152.12 3270.53L1148.12 3270.03L1144.12 3269.54L1140.12 3269.03L1136.12 3268.53L1132.12 3268.01L1128.12 3267.50L1124.13 3266.98L1120.13 3266.45L1116.13 3265.92L1112.13 3265.38L1108.13 3264.84L1104.13 3264.29L1100.13 3263.74L1096.13 3263.18L1092.13 3262.62L1088.13 3262.05L1084.14 3261.47L1080.14 3260.89L1076.14 3260.30L1072.14 3259.71L1068.14 3259.11L1064.14 3258.50L1060.14 3257.89L1056.14 3257.27L1052.14 3256.65L1048.14 3256.02L1044.15 3255.38L1040.15 3254.73L1036.15 3254.08L1032.15 3253.42L1028.15 3252.75L1024.15 3252.08L1020.15 3251.40L1016.15 3250.71L1012.15 3250.01L1008.15 3249.31L1004.16 3248.60L1000.16 3247.88L996.16 3247.15L992.16 3246.41L988.16 3245.67L984.16 3244.91L980.16 3244.15L976.16 3243.38L972.16 3242.60L968.16 3241.81L964.17 3241.01L960.17 3240.20L956.17 3239.38L952.17 3238.55L948.17 3237.71L944.17 3236.86L940.17 3236.00L936.17 3235.13L932.17 3234.25L928.17 3233.36L924.18 3232.45L920.18 3231.54L916.18 3230.61L912.18 3229.67L908.18 3228.72L904.18 3227.75L900.18 3226.78L896.18 3225.79L892.18 3224.78L888.18 3223.77L884.19 3222.74L880.19 3221.69L876.19 3220.63L872.19 3219.56L868.19 3218.47L864.19 3217.37L860.19 3216.25L856.19 3215.11L852.19 3213.96L848.20 3212.79L844.20 3211.61L840.20 3210.41L836.20 3209.19L832.20 3207.95L828.20 3206.69L824.20 3205.42L820.20 3204.12L816.20 3202.80L812.20 3201.47L808.21 3200.11L804.21 3198.74L800.21 3197.34L796.21 3195.91L792.21 3194.47L788.21 3193.00L784.21 3191.51L780.21 3189.99L776.21 3188.45L772.21 3186.88L768.22 3185.29L764.22 3183.67L760.22 3182.02L756.22 3180.34L752.22 3178.64L748.22 3176.90L744.22 3175.13L740.22 3173.33L736.22 3171.50L732.22 3169.63L728.23 3167.73L724.23 3165.80L720.23 3163.83L716.23 3161.82L712.23 3159.77L708.23 3157.68L704.23 3155.56L700.23 3153.39L696.23 3151.17L692.23 3148.92L688.24 3146.61L684.24 3144.26L680.24 3141.86L676.24 3139.41L672.24 3136.91L668.24 3134.36L664.24 3131.75L660.24 3129.08L656.24 3126.35L652.24 3123.56L648.25 3120.71L644.25 3117.80L640.25 3114.82L636.25 3111.76L632.25 3108.64L628.25 3105.44L624.25 3102.16L620.25 3098.80L616.25 3095.36L612.25 3091.83L608.25 3088.21L604.26 3084.50L600.26 3080.69L596.26 3076.78L592.26 3072.77L588.26 3068.65L584.26 3064.41L580.26 3060.05L576.26 3055.57L572.26 3050.96L568.27 3046.22L564.27 3041.34L560.27 3036.30L556.27 3031.12L552.27 3025.77L548.27 3020.26L544.27 3014.57L540.27 3008.69L536.27 3002.62L532.27 2996.35L528.28 2989.86L524.28 2983.14L520.28 2976.19L516.28 2968.99L512.28 2961.52L508.28 2953.77L504.28 2945.73L500.28 2937.37L496.28 2928.69L492.28 2919.65L488.29 2910.24L484.29 2900.43L480.29 2890.20L476.29 2879.52L472.29 2868.36L468.29 2856.68L464.29 2844.46L460.29 2831.64L456.29 2818.20L452.29 2804.07L448.30 2789.20L444.30 2773.55L440.30 2757.03L436.30 2739.58L432.30 2721.12L428.30 2701.56 Z" stroke="#2F3F52" stroke-width="9" fill="none" stroke-linejoin="round" stroke-linecap="round"/>
<path d="M428.50 2705.60L639.51 2705.60L642.81 2711.94L646.11 2718.16L649.41 2724.26L652.71 2730.26L656.01 2736.14L659.32 2741.92L662.62 2747.59L665.92 2753.16L669.22 2758.63L672.52 2764.01L675.82 2769.30L679.13 2774.49L682.43 2779.60L685.73 2784.62L689.03 2789.56L692.33 2794.41L695.63 2799.19L698.94 2803.88L702.24 2808.51L705.54 2813.05L708.84 2817.53L712.14 2821.93L715.44 2826.27L718.75 2830.53L722.05 2834.74L725.35 2838.87L728.65 2842.95L731.95 2846.96L735.25 2850.91L738.55 2854.81L741.86 2858.64L745.16 2862.43L748.46 2866.15L751.76 2869.82L755.06 2873.44L758.36 2877.01L761.67 2880.53L764.97 2884.00L768.27 2887.42L771.57 2890.79L774.87 2894.11L778.17 2897.40L781.48 2900.63L784.78 2903.82L788.08 2906.98L791.38 2910.08L794.68 2913.15L797.98 2916.18L801.29 2919.17L804.59 2922.12L807.89 2925.03L811.19 2927.90L814.49 2930.74L817.79 2933.54L821.10 2936.31L824.40 2939.04L827.70 2941.74L831.00 2944.40L834.30 2947.04L837.60 2949.64L840.91 2952.21L844.21 2954.74L847.51 2957.25L850.81 2959.73L854.11 2962.18L857.41 2964.60L860.72 2966.99L864.02 2969.36L867.32 2971.70L870.62 2974.01L873.92 2976.29L877.22 2978.55L880.53 2980.78L883.83 2982.99L887.13 2985.17L890.43 2987.33L893.73 2989.47L897.03 2991.58L900.34 2993.67L903.64 2995.74L906.94 2997.78L910.24 2999.80L913.54 3001.80L916.84 3003.78L920.15 3005.74L923.45 3007.68L926.75 3009.60L930.05 3011.49L933.35 3013.37L936.65 3015.23L939.96 3017.07L943.26 3018.89L946.56 3020.70L949.86 3022.48L953.16 3024.25L956.46 3026.00L959.77 3027.73L963.07 3029.44L966.37 3031.14L969.67 3032.82L972.97 3034.49L976.27 3036.14L979.58 3037.77L982.88 3039.39L986.18 3040.99L989.48 3042.58L992.78 3044.15L996.08 3045.70L999.39 3047.25L1002.69 3048.77L1005.99 3050.29L1009.29 3051.79L1012.59 3053.27L1015.89 3054.75L1019.20 3056.21L1022.50 3057.65L1025.80 3059.08L1029.10 3060.50L1032.40 3061.91L1035.70 3063.31L1039.00 3064.69L1042.31 3066.06L1045.61 3067.42L1048.91 3068.76L1052.21 3070.10L1055.51 3071.42L1058.81 3072.73L1062.12 3074.03L1065.42 3075.32L1068.72 3076.60L1072.02 3077.87L1075.32 3079.12L1078.62 3080.37L1081.93 3081.60L1085.23 3082.83L1088.53 3084.04L1091.83 3085.25L1095.13 3086.44L1098.43 3087.63L1101.74 3088.81L1105.04 3089.97L1108.34 3091.13L1111.64 3092.27L1114.94 3093.41L1118.24 3094.54L1121.55 3095.66L1124.85 3096.77L1128.15 3097.87L1131.45 3098.97L1134.75 3100.05L1138.05 3101.13L1141.36 3102.20L1144.66 3103.26L1147.96 3104.31L1151.26 3105.35L1154.56 3106.39L1157.86 3107.41L1161.17 3108.43L1164.47 3109.45L1167.77 3110.45L1171.07 3111.45L1174.37 3112.44L1177.67 3113.42L1180.98 3114.39L1184.28 3115.36L1187.58 3116.32L1190.88 3117.27L1194.18 3118.22L1197.48 3119.16L1200.79 3120.09L1204.09 3121.02L1207.39 3121.93L1210.69 3122.85L1213.99 3123.75L1217.29 3124.65L1220.60 3125.54L1223.90 3126.43L1227.20 3127.31L1230.50 3128.19L1233.80 3129.05L1237.10 3129.91L1240.41 3130.77L1243.71 3131.62L1247.01 3132.46L1250.31 3133.30L1253.61 3134.13L1256.91 3134.96L1260.22 3135.78L1263.52 3136.60L1266.82 3137.41L1270.12 3138.21L1273.42 3139.01L1276.72 3139.80L1280.03 3140.59L1283.33 3141.38L1286.63 3142.15L1289.93 3142.93L1293.23 3143.69L1296.53 3144.46L1299.84 3145.21L1303.14 3145.97L1306.44 3146.71L1309.74 3147.46L1313.04 3148.19L1316.34 3148.93L1319.65 3149.66L1322.95 3150.38L1326.25 3151.10L1329.55 3151.81L1332.85 3152.52L1336.15 3153.23L1339.45 3153.93L1342.76 3154.63L1346.06 3155.32L1349.36 3156.01L1352.66 3156.69L1355.96 3157.37L1359.26 3158.04L1362.57 3158.72L1365.87 3159.38L1369.17 3160.05L1372.47 3160.70L1375.77 3161.36L1379.07 3162.01L1382.38 3162.66L1385.68 3163.30L1388.98 3163.94L1392.28 3164.57L1395.58 3165.20L1398.88 3165.83L1402.19 3166.46L1405.49 3167.08L1408.79 3167.69L1412.09 3168.31L1415.39 3168.91L1418.69 3169.52L1422.00 3170.12L1425.30 3170.72L1428.60 3171.32L1431.90 3171.91L1435.20 3172.50L1438.50 3173.08L1441.81 3173.66L1445.11 3174.24L1448.41 3174.81L1451.71 3175.39L1455.01 3175.95L1458.31 3176.52L1461.62 3177.08L1464.92 3177.64L1468.22 3178.20L1471.52 3178.75L1474.82 3179.30L1478.12 3179.84L1481.43 3180.39L1484.73 3180.93L1488.03 3181.46L1491.33 3182.00L1494.63 3182.53L1497.93 3183.06L1501.24 3183.58L1504.54 3184.11L1507.84 3184.63L1511.14 3185.14L1514.44 3185.66L1517.74 3186.17L1521.05 3186.68L1524.35 3187.18L1527.65 3187.69L1530.95 3188.19L1534.25 3188.68L1537.55 3189.18L1540.86 3189.67L1544.16 3190.16L1547.46 3190.65L1550.76 3191.13L1554.06 3191.62L1557.36 3192.10L1560.67 3192.57L1563.97 3193.05L1567.27 3193.52L1570.57 3193.99L1573.87 3194.46L1577.17 3194.92L1580.48 3195.39L1583.78 3195.85L1587.08 3196.30L1590.38 3196.76L1593.68 3197.21L1596.98 3197.66L1600.29 3198.11L1603.59 3198.56L1606.89 3199.00L1610.19 3199.45L1613.49 3199.89L1616.79 3200.32L1620.10 3200.76L1623.40 3201.19L1626.70 3201.62L1630.00 3202.05L812.04 3202.20L810.76 3201.77L809.48 3201.34L808.20 3200.90L806.93 3200.47L805.65 3200.03L804.37 3199.59L803.09 3199.15L801.81 3198.70L800.53 3198.25L799.25 3197.81L797.98 3197.35L796.70 3196.90L795.42 3196.44L794.14 3195.98L792.86 3195.52L791.58 3195.06L790.31 3194.59L789.03 3194.13L787.75 3193.66L786.47 3193.18L785.19 3192.71L783.91 3192.23L782.63 3191.75L781.36 3191.27L780.08 3190.78L778.80 3190.29L777.52 3189.80L776.24 3189.31L774.96 3188.81L773.69 3188.31L772.41 3187.81L771.13 3187.31L769.85 3186.80L768.57 3186.29L767.29 3185.78L766.01 3185.26L764.74 3184.75L763.46 3184.23L762.18 3183.70L760.90 3183.18L759.62 3182.65L758.34 3182.12L757.06 3181.58L755.79 3181.04L754.51 3180.50L753.23 3179.96L751.95 3179.41L750.67 3178.86L749.39 3178.31L748.12 3177.75L746.84 3177.19L745.56 3176.63L744.28 3176.06L743.00 3175.49L741.72 3174.92L740.44 3174.35L739.17 3173.77L737.89 3173.18L736.61 3172.60L735.33 3172.01L734.05 3171.42L732.77 3170.82L731.50 3170.22L730.22 3169.62L728.94 3169.01L727.66 3168.40L726.38 3167.79L725.10 3167.17L723.82 3166.55L722.55 3165.93L721.27 3165.30L719.99 3164.67L718.71 3164.03L717.43 3163.39L716.15 3162.75L714.88 3162.10L713.60 3161.45L712.32 3160.79L711.04 3160.13L709.76 3159.47L708.48 3158.80L707.20 3158.13L705.93 3157.45L704.65 3156.77L703.37 3156.09L702.09 3155.40L700.81 3154.71L699.53 3154.01L698.26 3153.31L696.98 3152.60L695.70 3151.89L694.42 3151.17L693.14 3150.45L691.86 3149.73L690.58 3149.00L689.31 3148.26L688.03 3147.53L686.75 3146.78L685.47 3146.03L684.19 3145.28L682.91 3144.52L681.64 3143.76L680.36 3142.99L679.08 3142.22L677.80 3141.44L676.52 3140.65L675.24 3139.86L673.96 3139.07L672.69 3138.27L671.41 3137.46L670.13 3136.65L668.85 3135.84L667.57 3135.01L666.29 3134.19L665.02 3133.35L663.74 3132.51L662.46 3131.67L661.18 3130.82L659.90 3129.96L658.62 3129.10L657.34 3128.23L656.07 3127.36L654.79 3126.47L653.51 3125.59L652.23 3124.69L650.95 3123.79L649.67 3122.89L648.40 3121.97L647.12 3121.05L645.84 3120.13L644.56 3119.19L643.28 3118.25L642.00 3117.31L640.72 3116.35L639.45 3115.39L638.17 3114.42L636.89 3113.45L635.61 3112.46L634.33 3111.47L633.05 3110.48L631.78 3109.47L630.50 3108.46L629.22 3107.44L627.94 3106.41L626.66 3105.37L625.38 3104.33L624.10 3103.27L622.83 3102.21L621.55 3101.14L620.27 3100.07L618.99 3098.98L617.71 3097.89L616.43 3096.78L615.16 3095.67L613.88 3094.55L612.60 3093.42L611.32 3092.28L610.04 3091.13L608.76 3089.97L607.48 3088.81L606.21 3087.63L604.93 3086.44L603.65 3085.25L602.37 3084.04L601.09 3082.83L599.81 3081.60L598.54 3080.36L597.26 3079.12L595.98 3077.86L594.70 3076.59L593.42 3075.31L592.14 3074.02L590.86 3072.72L589.59 3071.41L588.31 3070.08L587.03 3068.75L585.75 3067.40L584.47 3066.04L583.19 3064.67L581.92 3063.28L580.64 3061.89L579.36 3060.48L578.08 3059.06L576.80 3057.63L575.52 3056.18L574.24 3054.72L572.97 3053.24L571.69 3051.76L570.41 3050.26L569.13 3048.74L567.85 3047.21L566.57 3045.67L565.30 3044.11L564.02 3042.54L562.74 3040.95L561.46 3039.35L560.18 3037.73L558.90 3036.09L557.62 3034.44L556.35 3032.78L555.07 3031.09L553.79 3029.40L552.51 3027.68L551.23 3025.95L549.95 3024.20L548.68 3022.43L547.40 3020.64L546.12 3018.84L544.84 3017.02L543.56 3015.17L542.28 3013.31L541.00 3011.44L539.73 3009.54L538.45 3007.62L537.17 3005.68L535.89 3003.72L534.61 3001.74L533.33 2999.74L532.06 2997.71L530.78 2995.67L529.50 2993.60L528.22 2991.51L526.94 2989.40L525.66 2987.26L524.38 2985.10L523.11 2982.92L521.83 2980.71L520.55 2978.47L519.27 2976.21L517.99 2973.93L516.71 2971.62L515.44 2969.28L514.16 2966.91L512.88 2964.52L511.60 2962.10L510.32 2959.65L509.04 2957.17L507.76 2954.66L506.49 2952.12L505.21 2949.55L503.93 2946.95L502.65 2944.32L501.37 2941.65L500.09 2938.95L498.82 2936.22L497.54 2933.45L496.26 2930.65L494.98 2927.81L493.70 2924.94L492.42 2922.02L491.14 2919.07L489.87 2916.09L488.59 2913.06L487.31 2909.99L486.03 2906.88L484.75 2903.73L483.47 2900.54L482.20 2897.30L480.92 2894.02L479.64 2890.70L478.36 2887.32L477.08 2883.90L475.80 2880.44L474.52 2876.92L473.25 2873.35L471.97 2869.73L470.69 2866.06L469.41 2862.34L468.13 2858.56L466.85 2854.72L465.58 2850.83L464.30 2846.87L463.02 2842.86L461.74 2838.79L460.46 2834.65L459.18 2830.45L457.90 2826.19L456.63 2821.85L455.35 2817.45L454.07 2812.98L452.79 2808.43L451.51 2803.81L450.23 2799.12L448.96 2794.35L447.68 2789.50L446.40 2784.56L445.12 2779.54L443.84 2774.44L442.56 2769.25L441.28 2763.97L440.01 2758.59L438.73 2753.12L437.45 2747.55L436.17 2741.89L434.89 2736.11L433.61 2730.24L432.34 2724.25L431.06 2718.15L429.78 2711.94L428.50 2705.60 Z" stroke="#8CC865" stroke-width="9" fill="none" stroke-linejoin="round" stroke-linecap="round"/>
<rect x="291.5" y="1893.4" width="1490" height="1487.6" fill="none" stroke="#000" stroke-width="8.8"/>
<path d="M296 3133.3H319M1777 3133.3H1760.9M296 2885.1H319M1777 2885.1H1760.9M296 2636.9H319M1777 2636.9H1760.9M296 2388.7H319M1777 2388.7H1760.9M296 2140.6H319M1777 2140.6H1760.9" stroke="#000" stroke-width="6.2" fill="none"/>
<path d="M506.6 3377V3360.0M506.6 1897.8V1914.8M718.6 3377V3354.0M718.6 1897.8V1920.8M930.7 3377V3360.0M930.7 1897.8V1914.8M1142.7 3377V3354.0M1142.7 1897.8V1920.8M1354.8 3377V3360.0M1354.8 1897.8V1914.8M1566.8 3377V3354.0M1566.8 1897.8V1920.8" stroke="#000" stroke-width="6.6" fill="none"/>
<path d="M1246 2090H1399" stroke="#2F3F52" stroke-width="8.4" stroke-linecap="round"/>
<path d="M1246 2195.5H1399" stroke="#8CC865" stroke-width="9" stroke-linecap="round"/>
<text id="a_lbl" transform="translate(16.87 55.28) scale(1.0630 0.9860)" style="font-size:60.0px;font-weight:bold;fill:#231F20;stroke:none">a)</text>
<text id="ya500" transform="translate(156.46 117.97) scale(0.9730 1.0210)" style="font-size:60.0px;">500</text>
<text id="ya400" transform="translate(156.32 413.98) scale(0.9730 1.0210)" style="font-size:60.0px;">400</text>
<text id="ya300" transform="translate(156.38 709.97) scale(0.9730 1.0210)" style="font-size:60.0px;">300</text>
<text id="ya200" transform="translate(156.35 1007.01) scale(0.9730 1.0210)" style="font-size:60.0px;">200</text>
<text id="ya100" transform="translate(157.47 1302.95) scale(0.9730 1.0210)" style="font-size:60.0px;">100</text>
<text id="ya25" transform="translate(191.84 1529.02) scale(0.9730 1.0210)" style="font-size:60.0px;">25</text>
<text id="ya0" transform="translate(228.98 1637.03) scale(0.9730 1.0210)" style="font-size:60.0px;">0</text>
<text id="xa25" transform="translate(298.00 1688.02) scale(0.9730 1.0210)" style="font-size:60.0px;">25</text>
<text id="xa200" transform="translate(539.03 1687.98) scale(0.9730 1.0210)" style="font-size:60.0px;">200</text>
<text id="xa400" transform="translate(836.72 1687.97) scale(0.9730 1.0210)" style="font-size:60.0px;">400</text>
<text id="xa600" transform="translate(1133.30 1687.97) scale(0.9730 1.0210)" style="font-size:60.0px;">600</text>
<text id="xa800" transform="translate(1430.33 1687.97) scale(0.9730 1.0210)" style="font-size:60.0px;">800</text>
<text id="xa1000" transform="translate(1711.13 1688.01) scale(0.9730 1.0210)" style="font-size:60.0px;">1000</text>
<text id="xt_w1" transform="translate(587.87 1770.60) scale(1.0603 1.0000)" style="font-size:60.6px;">Ericsson</text>
<text id="xt_w2" transform="translate(819.96 1770.60) scale(1.0080 1.0000)" style="font-size:60.6px;">High</text>
<text id="xt_w3" transform="translate(955.02 1770.60) scale(0.9728 1.0000)" style="font-size:60.6px;">Temperature,</text>
<text id="xt_T" transform="translate(1287.97 1771.04) scale(0.9955 1.0061)" style="font-size:60.0px;font-style:italic">T</text>
<text id="xt_sub" transform="translate(1317.72 1791.20) scale(0.9829 1.0000)" style="font-size:36.6px;font-style:italic">H,E</text>
<text id="xt_par" transform="translate(1395.02 1771.26) scale(0.9907 0.9876)" style="font-size:60.0px;">(ºC)</text>
<text id="yt_w1" transform="translate(90.80 1315.42) rotate(-90) scale(1.1092 1.0000)" style="font-size:60.6px;">Stirling</text>
<text id="yt_w2" transform="translate(90.80 1104.09) rotate(-90) scale(1.0473 1.0000)" style="font-size:60.6px;">High</text>
<text id="yt_w3" transform="translate(90.80 967.02) rotate(-90) scale(1.0168 1.0000)" style="font-size:60.6px;">Temperature,</text>
<text id="yt_T" transform="translate(91.00 613.91) rotate(-90) scale(0.9515 1.0261)" style="font-size:60.0px;font-style:italic">T</text>
<text id="yt_sub" transform="translate(111.10 585.13) rotate(-90) scale(0.9661 1.0000)" style="font-size:37.7px;font-style:italic">H,S</text>
<text id="yt_par" transform="translate(91.00 514.08) rotate(-90) scale(1.0282 1.0069)" style="font-size:60.0px;">(ºC)</text>
<g><text id="lg_V1" transform="translate(493.10 209.01) scale(0.9376 1.0054)" style="font-size:60.0px;font-style:italic">V</text><text id="lg_max" transform="translate(524.94 230.00) scale(1.0238 1.0000)" style="font-size:33.0px;font-style:italic">max</text><text id="lg_sl" transform="translate(575.27 206.36) scale(1.5273 0.8851)" style="font-size:60.0px;font-family:'DejaVu Sans';font-weight:200;stroke:#fff;stroke-width:1.6px;paint-order:fill stroke">/</text><text id="lg_V2" transform="translate(604.23 209.02) scale(0.8942 1.0036)" style="font-size:60.0px;font-style:italic">V</text><text id="lg_min" transform="translate(636.93 230.00) scale(1.0398 1.0000)" style="font-size:33.0px;font-style:italic">min</text><text id="lg_eq" transform="translate(703.99 206.45) scale(0.8072 0.8301)" style="font-size:60.0px;font-family:'DejaVu Sans';font-weight:200">=</text><text id="lg_n" transform="translate(756.76 210.01) scale(1.0377 1.0457)" style="font-size:60.0px;">2</text></g>
<g><text id="lg_V1_1" transform="translate(493.10 340.01) scale(0.9376 1.0054)" style="font-size:60.0px;font-style:italic">V</text><text id="lg_max_1" transform="translate(524.94 361.00) scale(1.0238 1.0000)" style="font-size:33.0px;font-style:italic">max</text><text id="lg_sl_1" transform="translate(575.27 337.36) scale(1.5273 0.8851)" style="font-size:60.0px;font-family:'DejaVu Sans';font-weight:200;stroke:#fff;stroke-width:1.6px;paint-order:fill stroke">/</text><text id="lg_V2_1" transform="translate(604.23 340.02) scale(0.8942 1.0036)" style="font-size:60.0px;font-style:italic">V</text><text id="lg_min_1" transform="translate(636.93 361.00) scale(1.0398 1.0000)" style="font-size:33.0px;font-style:italic">min</text><text id="lg_eq_1" transform="translate(703.99 337.45) scale(0.8072 0.8301)" style="font-size:60.0px;font-family:'DejaVu Sans';font-weight:200">=</text><text id="lg_n_1" transform="translate(756.76 341.01) scale(1.0377 1.0457)" style="font-size:60.0px;">4</text></g>
<g><text id="lg_V1_2" transform="translate(493.10 471.61) scale(0.9376 1.0054)" style="font-size:60.0px;font-style:italic">V</text><text id="lg_max_2" transform="translate(524.94 492.60) scale(1.0238 1.0000)" style="font-size:33.0px;font-style:italic">max</text><text id="lg_sl_2" transform="translate(575.27 468.96) scale(1.5273 0.8851)" style="font-size:60.0px;font-family:'DejaVu Sans';font-weight:200;stroke:#fff;stroke-width:1.6px;paint-order:fill stroke">/</text><text id="lg_V2_2" transform="translate(604.23 471.62) scale(0.8942 1.0036)" style="font-size:60.0px;font-style:italic">V</text><text id="lg_min_2" transform="translate(636.93 492.60) scale(1.0398 1.0000)" style="font-size:33.0px;font-style:italic">min</text><text id="lg_eq_2" transform="translate(703.99 469.05) scale(0.8072 0.8301)" style="font-size:60.0px;font-family:'DejaVu Sans';font-weight:200">=</text><text id="lg_n_2" transform="translate(756.76 472.61) scale(1.0377 1.0457)" style="font-size:60.0px;">6</text></g>
<g><text id="lg_V1_3" transform="translate(493.10 603.01) scale(0.9376 1.0054)" style="font-size:60.0px;font-style:italic">V</text><text id="lg_max_3" transform="translate(524.94 624.00) scale(1.0238 1.0000)" style="font-size:33.0px;font-style:italic">max</text><text id="lg_sl_3" transform="translate(575.27 600.36) scale(1.5273 0.8851)" style="font-size:60.0px;font-family:'DejaVu Sans';font-weight:200;stroke:#fff;stroke-width:1.6px;paint-order:fill stroke">/</text><text id="lg_V2_3" transform="translate(604.23 603.02) scale(0.8942 1.0036)" style="font-size:60.0px;font-style:italic">V</text><text id="lg_min_3" transform="translate(636.93 624.00) scale(1.0398 1.0000)" style="font-size:33.0px;font-style:italic">min</text><text id="lg_eq_3" transform="translate(703.99 600.45) scale(0.8072 0.8301)" style="font-size:60.0px;font-family:'DejaVu Sans';font-weight:200">=</text><text id="lg_n_3" transform="translate(756.76 604.01) scale(1.0377 1.0457)" style="font-size:60.0px;">8</text></g>
<g><text id="lg_V1_4" transform="translate(493.10 734.01) scale(0.9376 1.0054)" style="font-size:60.0px;font-style:italic">V</text><text id="lg_max_4" transform="translate(524.94 755.00) scale(1.0238 1.0000)" style="font-size:33.0px;font-style:italic">max</text><text id="lg_sl_4" transform="translate(575.27 731.36) scale(1.5273 0.8851)" style="font-size:60.0px;font-family:'DejaVu Sans';font-weight:200;stroke:#fff;stroke-width:1.6px;paint-order:fill stroke">/</text><text id="lg_V2_4" transform="translate(604.23 734.02) scale(0.8942 1.0036)" style="font-size:60.0px;font-style:italic">V</text><text id="lg_min_4" transform="translate(636.93 755.00) scale(1.0398 1.0000)" style="font-size:33.0px;font-style:italic">min</text><text id="lg_eq_4" transform="translate(703.99 731.45) scale(0.8072 0.8301)" style="font-size:60.0px;font-family:'DejaVu Sans';font-weight:200">=</text><text id="lg_n_4" transform="translate(756.76 735.01) scale(1.0377 1.0457)" style="font-size:60.0px;">10</text></g>
<text id="b_lbl" transform="translate(19.97 1866.00) scale(1.0309 1.0000)" style="font-size:60.0px;font-weight:bold;fill:#231F20;stroke:none">b)</text>
<text id="yb1800" transform="translate(130.59 1913.01) scale(0.9730 1.0210)" style="font-size:60.0px;">1800</text>
<text id="yb1500" transform="translate(130.65 2159.00) scale(0.9730 1.0210)" style="font-size:60.0px;">1500</text>
<text id="yb1200" transform="translate(130.88 2406.96) scale(0.9730 1.0210)" style="font-size:60.0px;">1200</text>
<text id="yb900" transform="translate(159.75 2653.97) scale(0.9730 1.0210)" style="font-size:60.0px;">900</text>
<text id="yb600" transform="translate(159.44 2900.96) scale(0.9730 1.0210)" style="font-size:60.0px;">600</text>
<text id="yb300" transform="translate(158.95 3152.05) scale(0.9730 1.0210)" style="font-size:60.0px;">300</text>
<text id="yb0" transform="translate(218.35 3395.98) scale(0.9730 1.0210)" style="font-size:60.0px;">0</text>
<text id="xb0" transform="translate(277.40 3485.96) scale(0.9730 1.0210)" style="font-size:60.0px;">0</text>
<text id="xb1" transform="translate(704.75 3488.01) scale(0.9730 1.0210)" style="font-size:60.0px;">1</text>
<text id="xb2" transform="translate(1129.88 3487.95) scale(0.9730 1.0210)" style="font-size:60.0px;">2</text>
<text id="xb3" transform="translate(1551.78 3486.94) scale(0.9730 1.0210)" style="font-size:60.0px;">3</text>
<text id="xtb_w1" transform="translate(825.94 3570.30) scale(1.0506 1.0000)" style="font-size:60.6px;">Volume</text>
<text id="xtb_p1" transform="translate(1032.00 3570.44) scale(0.8875 1.0499)" style="font-size:60.0px;">(</text>
<text id="xtb_x" transform="translate(1054.04 3570.30) scale(0.9744 1.0000)" style="font-size:60.6px;">×</text>
<text id="xtb_10" transform="translate(1088.49 3570.30) scale(0.8983 1.0000)" style="font-size:60.6px;">10</text>
<text id="xtb_e" transform="translate(1139.92 3550.36) scale(0.5540 0.5087)" style="font-size:60.0px;">-5</text>
<text id="xtb_m" transform="translate(1181.98 3570.30) scale(0.9602 1.0000)" style="font-size:60.6px;">m</text>
<text id="xtb_3" transform="translate(1226.85 3550.36) scale(0.5823 0.5087)" style="font-size:60.0px;">3</text>
<text id="xtb_p2" transform="translate(1249.72 3570.22) scale(1.1130 1.0666)" style="font-size:60.0px;">)</text>
<text id="ytb_w1" transform="translate(77.90 2831.13) rotate(-90) scale(1.0838 1.0000)" style="font-size:60.6px;">Pressure</text>
<text id="ytb_w2" transform="translate(77.90 2602.21) rotate(-90) scale(1.0637 1.0000)" style="font-size:60.6px;">(kPa)</text>
<text id="lgb_s" transform="translate(1410.98 2108.80) scale(1.0024 1.0000)" style="font-size:60.6px;">Stirling</text>
<text id="lgb_e" transform="translate(1409.97 2213.70) scale(1.0098 1.0000)" style="font-size:60.6px;">Ericsson</text>
</svg></body></html>
